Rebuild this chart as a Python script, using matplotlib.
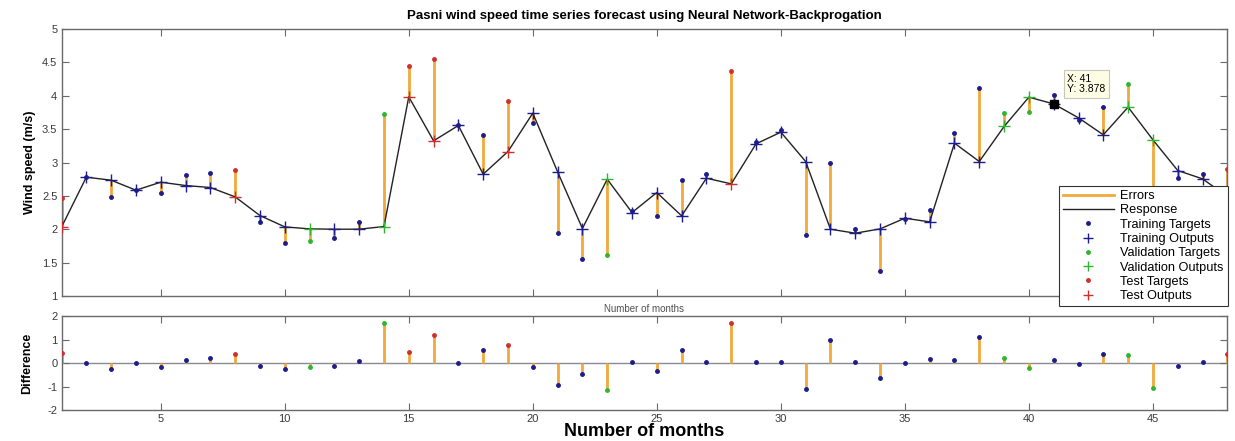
import numpy as np
import matplotlib
matplotlib.use("Agg")
import matplotlib.pyplot as plt
from matplotlib.lines import Line2D

plt.rcParams['font.family'] = ['Liberation Sans', 'DejaVu Sans']
plt.rcParams['axes.unicode_minus'] = False

months = np.arange(1, 49)

# network outputs (response curve)
outputs = [2.03, 2.78, 2.735, 2.585, 2.705, 2.655, 2.625, 2.485, 2.205, 2.035,
           2.005, 2.00, 2.00, 2.04, 3.985, 3.325, 3.555, 2.825, 3.165, 3.74,
           2.86, 2.01, 2.75, 2.25, 2.55, 2.20, 2.765, 2.68, 3.28, 3.455,
           3.015, 2.00, 1.94, 2.005, 2.165, 2.11, 3.29, 3.015, 3.54, 3.98,
           3.878, 3.67, 3.415, 3.83, 3.34, 2.88, 2.755, 2.49]

# targets minus outputs
errors = [0.44, 0.00, -0.25, 0.00, -0.155, 0.155, 0.225, 0.41, -0.10, -0.24,
          -0.18, -0.13, 0.11, 1.69, 0.46, 1.22, 0.00, 0.58, 0.76, -0.155,
          -0.92, -0.45, -1.13, 0.03, -0.35, 0.54, 0.06, 1.69, 0.03, 0.03,
          -1.10, 0.99, 0.06, -0.63, -0.01, 0.18, 0.155, 1.10, 0.20, -0.22,
          0.13, -0.04, 0.41, 0.35, -1.06, -0.11, 0.07, 0.41]

val_months = [11, 14, 23, 39, 40, 44, 45]
test_months = [1, 8, 15, 16, 19, 28, 48]

outputs = np.array(outputs)
errors = np.array(errors)
targets = outputs + errors

is_val = np.isin(months, val_months)
is_test = np.isin(months, test_months)
is_train = ~(is_val | is_test)

c_err = '#f2a93b'
c_train = '#1c1c8c'
c_val = '#2fb52f'
c_test = '#d0302a'
c_axis = '#6a6a6a'
c_tick = '#3a3a3a'

fig = plt.figure(figsize=(12.35, 4.41), dpi=100)
ax1 = fig.add_axes([0.0498, 0.329, 0.944, 0.605])
ax2 = fig.add_axes([0.0498, 0.070, 0.944, 0.213])

# top panel: response
ax1.vlines(months, outputs, targets, color=c_err, lw=2, zorder=2)
ax1.plot(months, outputs, color='#222222', lw=1, zorder=3)
for mask, col in [(is_train, c_train), (is_val, c_val), (is_test, c_test)]:
    ax1.plot(months[mask], targets[mask], '.', color=col, ms=5, zorder=4)
    ax1.plot(months[mask], outputs[mask], '+', color=col, ms=8, mew=1, zorder=4)

# data tip at month 41
ax1.plot(41, outputs[40], 's', color='black', ms=6, zorder=6)
ax1.annotate('X: 41\nY: 3.878', xy=(41, outputs[40]), xytext=(41.55, 4.02),
             fontsize=7.5, ha='left', va='bottom', linespacing=1.1,
             bbox=dict(boxstyle='square,pad=0.35', fc='#fdfde6', ec='#c8c8b8', lw=0.8),
             zorder=7)

ax1.set_xlim(1, 48)
ax1.set_ylim(1, 5)
ax1.set_yticks(np.arange(1, 5.01, 0.5))
ax1.set_yticklabels(['1', '1.5', '2', '2.5', '3', '3.5', '4', '4.5', '5'])
ax1.set_xticks(range(5, 48, 5))
ax1.set_xticklabels([])
ax1.set_title('Pasni wind speed time series forecast using Neural Network-Backprogation',
              fontsize=9.5, fontweight='bold', pad=7)
ax1.set_ylabel('Wind speed (m/s)', fontsize=9, fontweight='bold',
               family=['Liberation Sans Narrow', 'Liberation Sans'], labelpad=4)
ax1.set_xlabel('Number of months', fontsize=7, color='#505050', labelpad=3)

# bottom panel: differences
ax2.axhline(0, color='#8a8a96', lw=1, zorder=1)
ax2.vlines(months, 0, errors, color=c_err, lw=2, zorder=2)
for mask, col in [(is_train, c_train), (is_val, c_val), (is_test, c_test)]:
    ax2.plot(months[mask], errors[mask], '.', color=col, ms=5, zorder=4)
ax2.set_xlim(1, 48)
ax2.set_ylim(-2, 2)
ax2.set_yticks([-2, -1, 0, 1, 2])
ax2.set_xticks(range(5, 48, 5))
ax2.set_ylabel('Difference', fontsize=9, fontweight='bold',
               family=['Liberation Sans Narrow', 'Liberation Sans'], labelpad=10)
ax2.set_xlabel('Number of months', fontsize=13, fontweight='heavy', labelpad=-1)

for ax in (ax1, ax2):
    ax.tick_params(direction='in', length=5, width=0.8, colors=c_axis,
                   labelcolor=c_tick, labelsize=8, top=True, right=True, pad=3)
    for sp in ax.spines.values():
        sp.set_color(c_axis)
        sp.set_linewidth(1)

handles = [
    Line2D([], [], color=c_err, lw=2),
    Line2D([], [], color='#222222', lw=1),
    Line2D([], [], ls='none', marker='.', color=c_train, ms=5),
    Line2D([], [], ls='none', marker='+', color=c_train, ms=7),
    Line2D([], [], ls='none', marker='.', color=c_val, ms=5),
    Line2D([], [], ls='none', marker='+', color=c_val, ms=7),
    Line2D([], [], ls='none', marker='.', color=c_test, ms=5),
    Line2D([], [], ls='none', marker='+', color=c_test, ms=7),
]
labels = ['Errors', 'Response', 'Training Targets', 'Training Outputs',
          'Validation Targets', 'Validation Outputs', 'Test Targets', 'Test Outputs']
leg = fig.legend(handles, labels, loc='lower right', bbox_to_anchor=(0.994, 0.306),
                 fontsize=9.2, frameon=True, fancybox=False, framealpha=1,
                 edgecolor='#333333', labelspacing=0.18, handlelength=4.0,
                 handletextpad=0.5, borderpad=0.3, borderaxespad=0)
leg.get_frame().set_linewidth(0.8)
leg.set_zorder(10)

fig.savefig('out.png', dpi=100)
